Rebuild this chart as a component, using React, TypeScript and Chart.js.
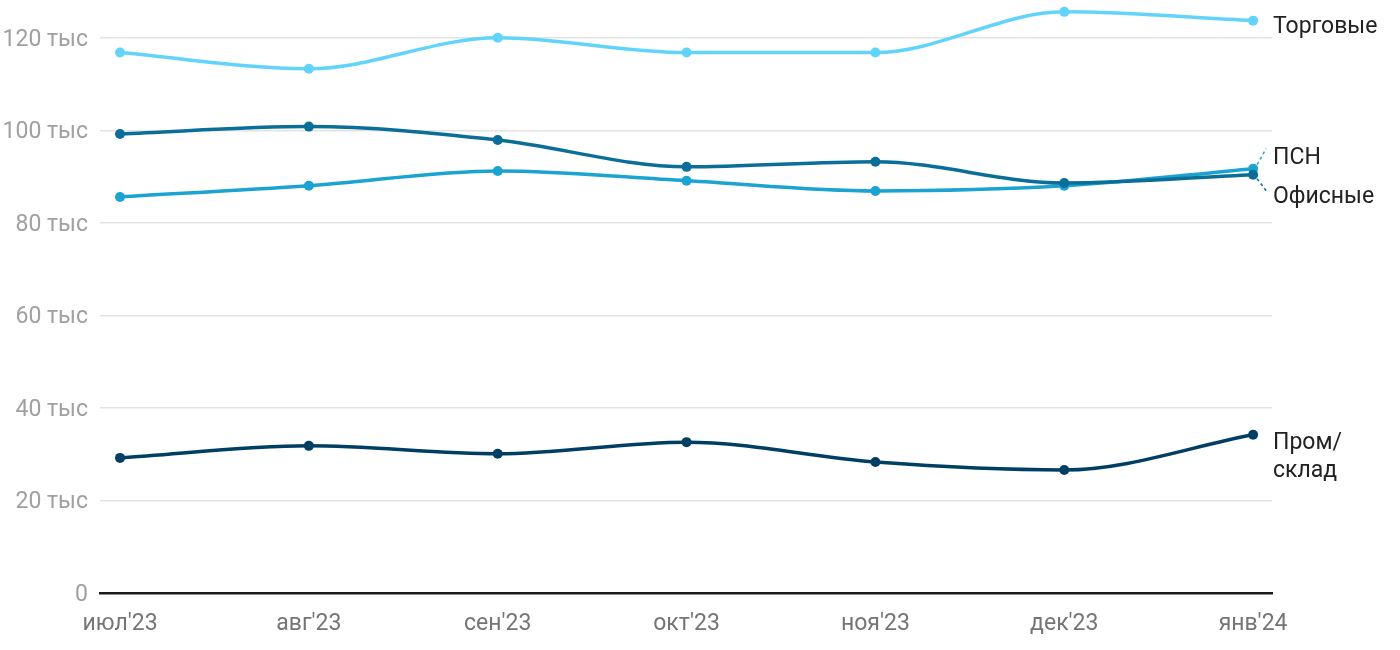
import React, { useEffect, useRef } from "react";
import { Chart, registerables } from "chart.js";

Chart.register(...registerables);

const categories = ["июл'23", "авг'23", "сен'23", "окт'23", "ноя'23", "дек'23", "янв'24"];
const torgovye = [116.8, 113.3, 120.0, 116.8, 116.8, 125.6, 123.7];
const ofisnye = [99.2, 100.8, 97.9, 92.1, 93.2, 88.6, 90.4];
const psn = [85.6, 88.0, 91.2, 89.1, 86.9, 88.0, 91.7];
const promsklad = [29.2, 31.8, 30.1, 32.6, 28.3, 26.6, 34.2];
const yTicks = [0, 20, 40, 60, 80, 100, 120];

const seriesNames = ["Торговые", "Офисные", "ПСН", "Пром/склад"];
const seriesColors = ["#62d4fb", "#0a6e99", "#1ba3d1", "#003f63"];
const seriesData = [torgovye, ofisnye, psn, promsklad];

const FONT = "Roboto, 'Noto Sans', sans-serif";

const labelPlugin = {
  id: "endLabels",
  afterDatasetsDraw(chart: any) {
    const ctx = chart.ctx;
    const pt = (i: number) => {
      const meta = chart.getDatasetMeta(i);
      const p = meta.data[meta.data.length - 1];
      return { x: p.x, y: p.y };
    };
    ctx.save();
    ctx.font = `23px ${FONT}`;
    ctx.fillStyle = "#222222";
    ctx.textAlign = "left";
    ctx.textBaseline = "middle";
    const tx = 1273;
    const t = pt(0);
    ctx.fillText("Торговые", tx, t.y + 7);
    const o = pt(1);
    const p = pt(2);
    ctx.fillText("ПСН", tx, p.y - 10);
    ctx.fillText("Офисные", tx, o.y + 23);
    const s = pt(3);
    ctx.fillText("Пром/", tx, s.y + 8);
    ctx.fillText("склад", tx, s.y + 36);
    ctx.setLineDash([3, 3]);
    ctx.lineWidth = 1.5;
    ctx.strokeStyle = seriesColors[2];
    ctx.beginPath();
    ctx.moveTo(p.x + 4, p.y - 4);
    ctx.lineTo(p.x + 13, p.y - 20);
    ctx.stroke();
    ctx.strokeStyle = seriesColors[1];
    ctx.beginPath();
    ctx.moveTo(o.x + 4, o.y + 4);
    ctx.lineTo(o.x + 13, o.y + 16);
    ctx.stroke();
    ctx.restore();
  },
};

export default function App() {
  const ref = useRef<HTMLCanvasElement>(null);
  useEffect(() => {
    if (!ref.current) return;
    const chart = new Chart(ref.current, {
      type: "line",
      data: {
        datasets: seriesNames.map((name, i) => ({
          label: name,
          data: seriesData[i].map((v, j) => ({ x: j, y: v })),
          borderColor: seriesColors[i],
          backgroundColor: seriesColors[i],
          borderWidth: 3.5,
          pointRadius: 5,
          pointHoverRadius: 5,
          pointBorderWidth: 0,
          cubicInterpolationMode: "monotone" as const,
          clip: false as any,
        })),
      },
      options: {
        animation: false,
        responsive: false,
        layout: { padding: { top: 10, right: 128, left: 0, bottom: 0 } },
        plugins: { legend: { display: false }, tooltip: { enabled: false } },
        scales: {
          x: {
            type: "linear",
            min: -0.106,
            max: 6.1,
            afterBuildTicks: (scale: any) => {
              scale.ticks = categories.map((_, i) => ({ value: i }));
            },
            afterFit: (scale: any) => {
              scale.height = 57;
              scale.paddingLeft = 0;
              scale.paddingRight = 0;
            },
            ticks: {
              callback: (v: any) => categories[v] ?? "",
              color: "#757575",
              font: { family: FONT, size: 23 },
              padding: 17,
              maxRotation: 0,
              autoSkip: false,
            },
            grid: { display: false, drawTicks: false },
            border: { display: true, color: "#1a1a1a", width: 2.5 },
          },
          y: {
            type: "linear",
            min: 0,
            max: 126,
            afterBuildTicks: (scale: any) => {
              scale.ticks = yTicks.map((v) => ({ value: v }));
            },
            afterFit: (scale: any) => {
              scale.width = 100;
              scale.paddingTop = 0;
              scale.paddingBottom = 0;
            },
            ticks: {
              callback: (v: any) => (v === 0 ? "0" : `${v} тыс`),
              color: "#a0a0a0",
              font: { family: FONT, size: 23 },
              padding: 12,
              labelOffset: 2,
            },
            grid: { color: "#e3e3e3", lineWidth: 1.5, drawTicks: false },
            border: { display: false },
          },
        },
      },
      plugins: [labelPlugin],
    });
    return () => chart.destroy();
  }, []);
  return (
    <div style={{ position: "fixed", left: 0, top: 0, width: 1400, height: 650, background: "#fff" }}>
      <canvas ref={ref} width={1400} height={650} style={{ display: "block" }} />
    </div>
  );
}
